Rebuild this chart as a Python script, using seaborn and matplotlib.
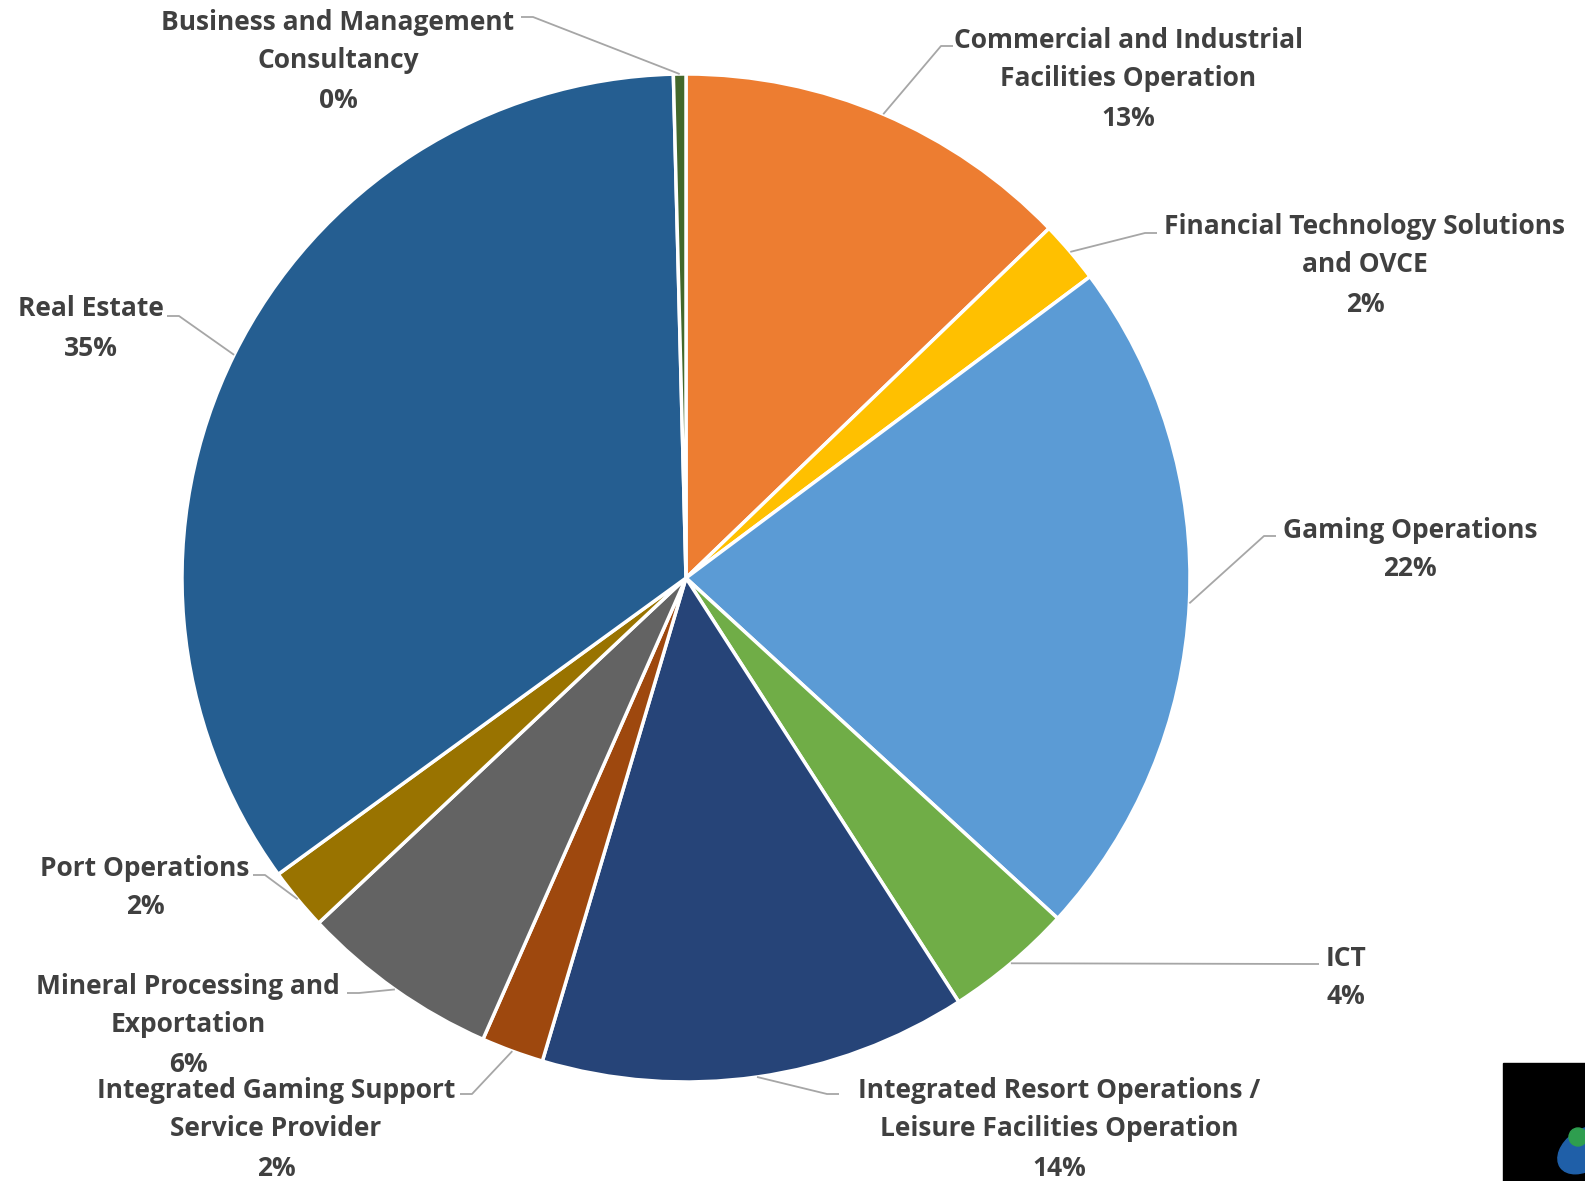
import numpy as np
import matplotlib
matplotlib.use("Agg")
import matplotlib.pyplot as plt
import seaborn as sns
from matplotlib.patches import Ellipse, Rectangle

# slices, clockwise from 12 o'clock
sectors = [
    "Commercial and Industrial\nFacilities Operation",
    "Financial Technology Solutions\nand OVCE",
    "Gaming Operations",
    "ICT",
    "Integrated Resort Operations /\nLeisure Facilities Operation",
    "Integrated Gaming Support\nService Provider",
    "Mineral Processing and\nExportation",
    "Port Operations",
    "Real Estate",
    "Business and Management\nConsultancy",
]
shares = [12.8, 2.0, 22.0, 4.1, 13.7, 2.0, 6.4, 2.0, 34.6, 0.4]
colors = ["#ED7D31", "#FFC000", "#5B9BD5", "#70AD47", "#264478",
          "#9E480E", "#636363", "#997300", "#255E91", "#43682B"]

# label block centre (x, y of first line) and where the leader meets it, in pixels from top-left
label_pos = [(1128, 40), (1365, 226), (1410, 530), (1346, 958), (1059, 1090),
             (276, 1090), (188, 986), (145, 868), (91, 309), (338, 22)]
leader_pt = [(953, 46), (1157, 233), (1276, 536), (1319, 964), (839, 1094),
             (460, 1094), (347, 993), (253, 875), (167, 316), (521, 17)]

W, H = 1585, 1181
sns.set_theme(style="white")
plt.rcParams["font.family"] = ["Open Sans", "DejaVu Sans"]

fig = plt.figure(figsize=(W / 100, H / 100), dpi=100)
ax = fig.add_axes([0, 0, 1, 1])

cx, cy, r = 686, H - 578, 504
wedges, _ = ax.pie(shares, colors=colors, startangle=90, counterclock=False,
                   center=(cx, cy), radius=r, frame=True,
                   wedgeprops=dict(edgecolor="white", linewidth=2.5))
ax.set_xlim(0, W)
ax.set_ylim(0, H)
ax.set_aspect("equal")
ax.axis("off")

total = sum(shares)
txt_col = "#404040"
line_col = "#A6A6A6"
for i, w in enumerate(wedges):
    mid = np.deg2rad((w.theta1 + w.theta2) / 2)
    ex, ey = cx + r * np.cos(mid), cy + r * np.sin(mid)
    lx, ly = leader_pt[i]
    ly = H - ly
    side = 1 if lx > ex else -1
    elbow = lx - 12 * side
    ax.plot([ex, elbow, lx], [ey, ly, ly], color=line_col, lw=1.3,
            solid_capstyle="butt", zorder=1)
    lines = sectors[i].split("\n") + [f"{shares[i] / total * 100:.0f}%"]
    tx, ty = label_pos[i]
    for k, s in enumerate(lines):
        ax.text(tx, H - (ty + 39 * k), s, ha="center", va="center",
                fontsize=19, fontweight="bold", color=txt_col)

# cropped logo tile at the bottom-right corner
ax.add_patch(Rectangle((1503, 0), W - 1503, H - 1063, color="black", zorder=5))
ax.add_patch(Ellipse((1585, 1181 - 1150), 60, 40, angle=35, color="#1F5FA8", zorder=6))
ax.add_patch(Ellipse((1578, 1181 - 1137), 18, 18, color="#2E9E4F", zorder=7))

fig.savefig("out.png", dpi=100, facecolor="white")
